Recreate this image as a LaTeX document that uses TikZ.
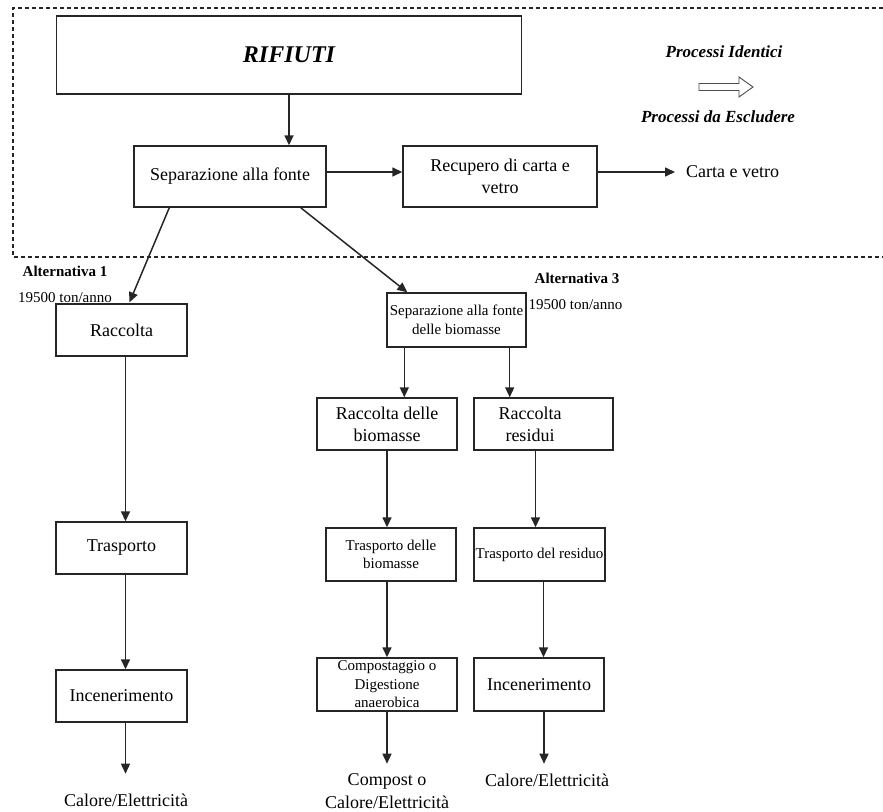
\documentclass[tikz,border=0pt]{standalone}
\usepackage{fontspec}
\setmainfont{Liberation Serif}
\usetikzlibrary{arrows.meta,calc}
\newcommand\mainsz{\fontsize{18}{22}\selectfont}
\newcommand\smallsz{\fontsize{15}{18.5}\selectfont}
\begin{document}
\begin{tikzpicture}[x=1pt,y=-1pt,
  box/.style={draw=black!85,line width=1.4pt,rectangle,inner sep=0pt,
    align=center,font=\mainsz},
  sbox/.style={box,font=\smallsz},
  txt/.style={inner sep=0pt,align=center,font=\mainsz},
  stxt/.style={inner sep=0pt,font=\smallsz},
  flow/.style={draw=black!85,line width=1.5pt,
    -{Triangle[length=10pt,width=9pt]}},
  frame/.style={draw=black!85,line width=1.1pt,dash pattern=on 4pt off 3pt}]

\useasboundingbox (0,0) rectangle (883,811);

% area of the processes common to every alternative
\draw[frame] (883,8) -- (13,8) -- (13,257) -- (883,257);

% legend
\node[txt,font=\fontsize{17}{20}\selectfont\bfseries\itshape] (leg1) at (724,52) {Processi Identici};
\node[txt,font=\fontsize{17}{20}\selectfont\bfseries\itshape] (leg2) at (718,117) {Processi da Escludere};
\draw[draw=black!70,line width=0.9pt,fill=white]
  (699,83.5) -- (739,83.5) -- (739,77) -- (753,87) -- (739,97) -- (739,90.5) -- (699,90.5) -- cycle;

% common part
\node[box,minimum width=465pt,minimum height=78pt,font=\fontsize{24}{28}\selectfont\bfseries\itshape]
  (rif) at (289,55) {RIFIUTI};
\node[box,minimum width=192pt,minimum height=61pt] (sep) at (230,176.5) {Separazione alla fonte};
\node[box,minimum width=194pt,minimum height=61pt] (rec) at (500,176.5) {Recupero di carta e\\vetro};
\node[txt,anchor=west] (carta) at (686,172) {Carta e vetro};

\draw[flow] (rif.south) -- (rif.south |- sep.north);
\draw[flow] (sep.east |- carta.west) -- (rec.west |- carta.west);
\draw[flow] (rec.east |- carta.west) -- ($(carta.west)+(-11,0)$);

% alternative 1
\node[stxt,font=\fontsize{15}{18}\selectfont\bfseries] (alt1) at (65,271) {Alternativa 1};
\node[stxt] (q1) at (65,298) {19500 ton/anno};
\node[box,minimum width=131pt,minimum height=52pt] (rac1) at (121.5,330) {Raccolta};
\node[box,minimum width=131pt,minimum height=52pt] (tra1) at (121.5,548) {Trasporto};
\node[box,minimum width=131pt,minimum height=52pt] (inc1) at (121.5,696) {Incenerimento};
\node[txt] (out1) at (126,800) {Calore/Elettricità};

\draw[flow] ($(sep.south west)+(36,0)$) -- ($(rac1.north)+(8,-1)$);
\coordinate (a1) at ($(rac1.south)+(4,0)$);
\coordinate (a2) at ($(tra1.south)+(4,0)$);
\coordinate (a3) at ($(inc1.south)+(4,0)$);
\draw[flow] (a1) -- (a1 |- tra1.north);
\draw[flow] (a2) -- (a2 |- inc1.north);
\draw[flow] (a3) -- ($(a3)+(0,51)$);

% alternative 3
\node[stxt,font=\fontsize{15}{18}\selectfont\bfseries] (alt3) at (577,278) {Alternativa 3};
\node[stxt] (q3) at (575.5,305) {19500 ton/anno};
\node[sbox,minimum width=139pt,minimum height=54pt] (sbio) at (456.5,320)
  {Separazione alla fonte\\delle biomasse};
\node[box,minimum width=140pt,minimum height=52pt] (rbio) at (387,424) {Raccolta delle\\biomasse};
\node[box,minimum width=139pt,minimum height=52pt] (rres) at (543.5,424) {};
\node[txt] (rrestext) at (530,424) {Raccolta\\residui};
\node[sbox,minimum width=130pt,minimum height=53pt] (tbio) at (391,554.5) {Trasporto delle\\biomasse};
\node[sbox,minimum width=131pt,minimum height=53pt] (tres) at (539.5,554.5) {Trasporto del residuo};
\node[sbox,minimum width=140pt,minimum height=53pt] (comp) at (387,684.5)
  {Compostaggio o\\Digestione\\anaerobica};
\node[box,minimum width=130pt,minimum height=53pt] (inc3) at (539,684.5) {Incenerimento};
\node[txt,font=\fontsize{18}{23}\selectfont] (out2) at (387,791) {Compost o\\Calore/Elettricità};
\node[txt] (out3) at (547,780) {Calore/Elettricità};

\draw[flow] ($(sep.south east)+(-26,0)$) -- ($(sbio.north west)+(21,0)$);
\coordinate (b1) at ($(sbio.south west)+(18,0)$);
\coordinate (b2) at ($(sbio.south east)+(-17,0)$);
\draw[flow] (b1) -- (b1 |- rbio.north);
\draw[flow] (b2) -- (b2 |- rres.north);
\draw[flow] (rbio.south) -- (rbio.south |- tbio.north);
\coordinate (b3) at ($(rres.south)+(-8,0)$);
\draw[flow] (b3) -- (b3 |- tres.north);
\draw[flow] (comp.north |- tbio.south) -- (comp.north);
\coordinate (b4) at ($(tres.south)+(4,0)$);
\draw[flow] (b4) -- (b4 |- inc3.north);
\draw[flow] (comp.south) -- ($(comp.south)+(0,52)$);
\coordinate (b5) at ($(inc3.south)+(5,0)$);
\draw[flow] (b5) -- ($(b5)+(0,52)$);
\end{tikzpicture}
\end{document}
